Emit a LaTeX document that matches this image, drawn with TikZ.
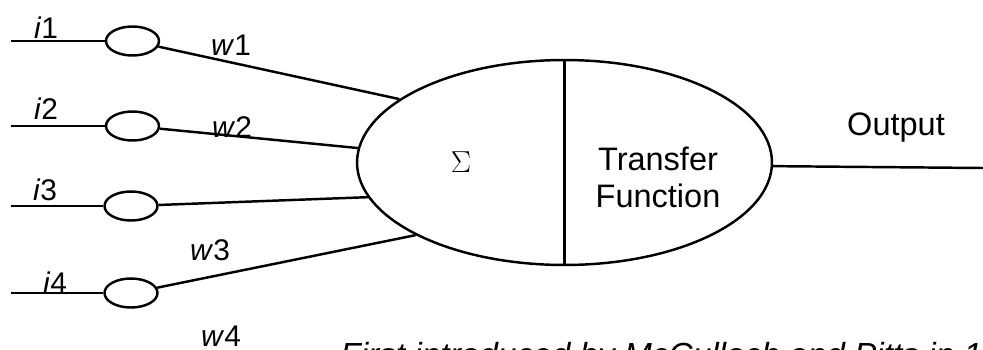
\documentclass[tikz,border=0pt]{standalone}
\usepackage{fontspec}
\setmainfont{Liberation Sans}
\usetikzlibrary{shapes.geometric}
\tikzset{
  wire/.style={line width=1.4pt},
  gate/.style={ellipse,draw,line width=1.4pt,minimum width=1.06cm,minimum height=0.58cm,inner sep=0pt},
  lbl/.style={inner sep=0pt,anchor=base,font=\fontsize{17}{20}\selectfont},
}
\begin{document}
\begin{tikzpicture}[x=0.02cm,y=0.02cm]
\useasboundingbox (0,0) rectangle (983,349);
% neuron body
\node[ellipse,draw,line width=1.4pt,minimum width=8.3cm,minimum height=4.1cm,inner sep=0pt] (neuron) at (564.5,186.5) {};
\draw[wire] (neuron.north) -- (neuron.south);
\node[inner sep=0pt,font=\fontsize{19}{22}\selectfont] (sum) at (461,186.5) {$\Sigma$};
\node[inner sep=0pt,align=center,anchor=base,font=\fontsize{18.5}{21}\selectfont] (transfer) at (658,142) {Transfer\\Function};

% input gates
\node[gate] (g1) at (132.5,308) {};
\node[gate] (g2) at (132.5,223) {};
\node[gate] (g3) at (131,143) {};
\node[gate] (g4) at (131,56) {};
\coordinate (in1) at (11,308);
\coordinate (in2) at (11,223);
\coordinate (in3) at (11,143);
\coordinate (in4) at (11,56);
\draw[wire] (in1) -- (g1);
\draw[wire] (in2) -- (g2);
\draw[wire] (in3) -- (g3);
\draw[wire] (in4) -- (g4);
\draw[wire] (g1) -- (neuron.159.8);
\draw[wire] (g2) -- (neuron.176.6);
\draw[wire] (g3) -- (neuron.190.5);
\draw[wire] (g4) -- (neuron.206.6);

\node[lbl] (i1) at (46,311) {\textit{i}1};
\node[lbl] (i2) at (46,230) {\textit{i}2};
\node[lbl] (i3) at (45,149) {\textit{i}3};
\node[lbl] (i4) at (55,56) {\textit{i}4};
\node[lbl] (w1) at (231,294) {\textit{w}1};
\node[lbl] (w2) at (232,212) {\textit{w}2};
\node[lbl] (w3) at (210,89) {\textit{w}3};
\node[lbl] (w4) at (221,3) {\textit{w}4};

% output
\coordinate (out) at (983,181);
\draw[wire] (neuron.-1.5) -- (out);
\node[inner sep=0pt,anchor=base,font=\fontsize{18.5}{21}\selectfont] (outlbl) at (896,214) {Output};

\node[inner sep=0pt,anchor=base west,font=\fontsize{19}{22}\selectfont\itshape] (note) at (340,-17) {First introduced by McCulloch and Pitts in 1};
\end{tikzpicture}
\end{document}
